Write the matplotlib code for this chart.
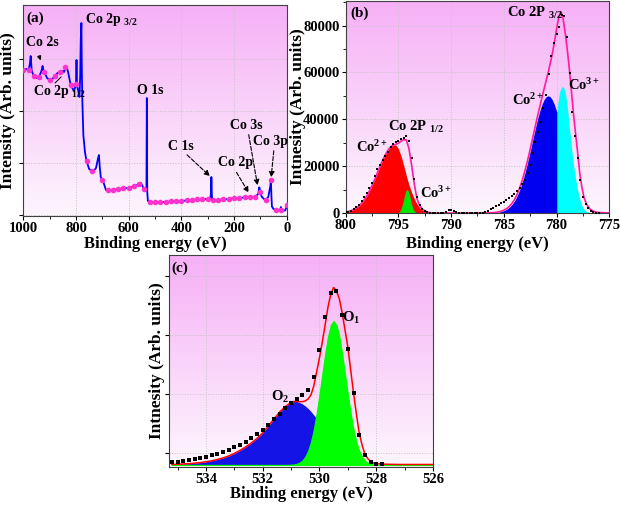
import numpy as np
import matplotlib
matplotlib.use('Agg')
import matplotlib.pyplot as plt
from matplotlib.colors import LinearSegmentedColormap
from matplotlib.ticker import MultipleLocator

plt.rcParams['font.family'] = 'Liberation Serif'
plt.rcParams['font.weight'] = 'bold'
plt.rcParams['axes.labelweight'] = 'bold'
plt.rcParams['mathtext.fontset'] = 'custom'
plt.rcParams['mathtext.rm'] = 'Liberation Serif:bold'
plt.rcParams['mathtext.it'] = 'Liberation Serif:italic:bold'
plt.rcParams['mathtext.bf'] = 'Liberation Serif:bold'

# (a) survey spectrum
survey_e = [1000, 990, 980, 975, 972, 968, 960, 950, 940, 930, 927, 924, 920, 910, 900, 890, 880,
            870, 860, 850, 845, 840, 837, 830, 820, 812, 808, 804, 800, 798, 796, 792, 787, 784,
            782, 779.5, 778, 776, 772, 766, 760, 750, 740, 730, 724, 716, 713, 710, 706, 700, 696,
            690, 686, 680, 660, 640, 620, 600, 580, 560, 553, 546, 540, 535, 532.5, 531, 529.5,
            527, 524, 520, 500, 480, 460, 440, 420, 400, 380, 360, 340, 320, 300, 290, 287, 286,
            284, 282, 280, 260, 240, 220, 200, 180, 160, 140, 120, 108, 104, 100, 95, 82, 80, 70,
            62, 60, 58, 56, 50, 40, 25, 22, 20, 15, 6, 2, 0]
survey_i = [146, 147, 146, 152, 160, 145, 140, 138, 139, 146, 150, 146, 144, 138, 136, 137, 140,
            143, 144, 145, 144, 149, 150, 144, 131, 127, 125, 128, 132, 156, 130, 126, 119, 140,
            175, 193, 150, 116, 81, 64, 55, 47, 45, 46, 48, 58, 61, 50, 39, 36, 34,
            29, 26, 26, 26, 27, 27.5, 28, 29.5, 32, 33, 29, 27, 25.5, 26, 118, 24.5,
            15, 14.5, 14, 13.7, 14, 14, 14.5, 14.8, 15, 15.5, 16, 16.5, 16.7, 17, 17, 25, 39,
            20, 15.5, 15.5, 16, 16.5, 17, 17.7, 18, 18.5, 18.8, 19.3, 22, 28.7, 24, 19.3, 16, 16, 19,
            30, 36, 20, 9.5, 7, 6, 6, 9, 6, 5.3, 5.5, 8, 11]

# (b) Co 2p
b_dots_e = np.linspace(800, 776, 97)
b_dots = [300, 450, 800, 1500, 2400, 3500, 5000, 6900, 8700, 10800, 13000, 16000, 18600, 20600,
          22500, 24500, 26200, 28200, 29500, 30300, 30900, 31500, 32200, 32800, 30800, 23600,
          14500, 7000, 3500, 1800, 1000, 500, 200, 100, 50, 0, 0, 100, 500, 1100, 1400, 900, 400,
          200, 100, 0, 0, 0, 0, 0, 0, 0, 100, 300, 700, 1500, 2300, 2900, 3500, 4200, 4800, 5500,
          6300, 7200, 8100, 9200, 10500, 12200, 14100, 17000, 20600, 25500, 30200, 34500, 39000,
          44800, 50500, 59500, 66900, 72500, 76500, 79500, 84500, 84000, 75000, 59800, 43000,
          33000, 23500, 14000, 7000, 4000, 2000, 900, 400, 150, 50]

b_env_e = [800.0, 799.75, 799.5, 799.25, 799.0, 798.75, 798.5, 798.25, 798.0, 797.75, 797.5,
           797.25, 797.0, 796.75, 796.5, 796.25, 796.0, 795.75, 795.5, 795.25, 795.0, 794.75,
           794.5, 794.25, 794.0, 793.75, 793.5, 793.25, 793.0, 792.75, 792.5, 792.25, 792.0,
           791.75, 791.0, 790.0, 789.0, 788.0, 787.0, 786.5, 786.0, 785.8, 785.6, 785.4, 785.2,
           785.0, 784.8, 784.6, 784.4, 784.2, 784.0, 783.8, 783.6, 783.4, 783.2, 783.0, 782.8,
           782.6, 782.4, 782.2, 782.0, 781.8, 781.6, 781.4, 781.2, 781.0, 780.8, 780.6, 780.4,
           780.2, 780.0, 779.8, 779.6, 779.4, 779.2, 779.0, 778.8, 778.6, 778.4, 778.2, 778.0,
           777.8, 777.6, 777.4, 777.2, 777.0, 776.8, 776.6, 776.4, 776.2, 776.0, 775.5, 775.0]
b_env = [420, 650, 990, 1480, 2130, 3000, 4150, 5600, 7300, 9400, 11800, 14300, 17100, 19800,
         22500, 24800, 26800, 28200, 29000, 29300, 29800, 30700, 31300, 31200, 27500, 20500,
         12500, 6300, 3300, 1800, 900, 400, 150, 50, 0, 0, 0, 0, 0, 50, 150, 250, 400, 600, 850,
         1200, 1700, 2300, 3200, 4300, 5700, 7400, 9500, 12000, 14800, 18000, 21500, 25300,
         29300, 33300, 37400, 41400, 45200, 49000, 52700, 56300, 60000, 63800, 68000, 73000,
         78500, 83300, 86000, 83500, 77500, 70500, 62000, 52500, 42500, 34000, 25800, 17000,
         11000, 6700, 4200, 2700, 1600, 1000, 560, 380, 250, 100, 50]

red_e = np.linspace(800, 791.75, 34)
red_co2 = [420, 650, 990, 1480, 2130, 3000, 4150, 5600, 7300, 9400, 11800, 14300, 17100, 19800,
           22500, 24800, 26800, 28200, 29000, 29050, 27400, 24300, 20300, 15900, 12000, 8800,
           6100, 3900, 2300, 1300, 650, 300, 120, 40]
green_e = np.linspace(795.1, 793.3, 19)
green_co3 = [120, 300, 660, 1340, 2450, 4000, 5900, 7860, 9400, 10130, 9800, 8550, 6700, 4740,
             3020, 1720, 890, 410, 170]
blue_e = [785.8, 785.6, 785.4, 785.2, 785.0, 784.8, 784.6, 784.4, 784.2, 784.0, 783.8, 783.6,
          783.4, 783.2, 783.0, 782.8, 782.6, 782.4, 782.2, 782.0, 781.8, 781.6, 781.4, 781.2,
          781.0, 780.8, 780.6, 780.4, 780.2, 780.0, 779.95]
blue_co2 = [190, 300, 450, 680, 1000, 1430, 2000, 2800, 3800, 5140, 6800, 8800, 11100, 13900,
            17100, 20600, 24400, 28300, 32400, 36300, 40100, 43400, 46200, 48300, 49600, 50050,
            49600, 48300, 46200, 43400, 43000]
cyan_e = [779.95, 779.9, 779.8, 779.7, 779.6, 779.5, 779.4, 779.3, 779.2, 779.1, 779.0, 778.9,
          778.8, 778.6, 778.4, 778.2, 778.0, 777.8, 777.6, 777.4, 777.2, 777.0, 776.8, 776.6]
cyan_co3 = [43000, 46000, 49300, 51700, 53100, 53800, 53900, 53300, 52000, 49400, 46000, 42000,
            37200, 28500, 21000, 14800, 9800, 5800, 3200, 1600, 800, 400, 150, 0]

# (c) O 1s
c_e = np.concatenate([np.linspace(535.2, 531.2, 21), np.linspace(531.0, 528.0, 31),
                      np.linspace(527.8, 526.0, 10)])
o2 = [0.5, 0.7, 1.0, 1.3, 1.8, 2.4, 3.2, 4.2, 5.5, 7.0, 9.0, 11.5, 14.5, 18, 22, 26.5, 32, 39,
      46, 53, 58.5,
      62.5, 63.5, 63.5, 62.5, 61, 59, 56.5, 53.5, 50, 46.5, 42.5, 38.5, 34.5, 30.5, 26.5, 23,
      19.5, 16.5, 13.5, 11, 9, 7, 5.5, 4.2, 3.2, 2.4, 1.8, 1.3, 0.9, 0.6, 0.4,
      0.2, 0.1, 0, 0, 0, 0, 0, 0, 0, 0]
o1 = [0] * 21 + [0.2, 0.5, 1.15, 2.4, 4.5, 8.3, 14.2, 23, 35.5, 51.5, 70.5, 91, 111, 128.5, 140,
                 144, 140, 128.5, 111, 91, 70.5, 51.5, 35.5, 23, 14.2, 8.3, 4.5, 2.4, 1.15, 0.5,
                 0.2] + [0.1, 0, 0, 0, 0, 0, 0, 0, 0, 0]
c_env = [0.5, 0.7, 1.0, 1.3, 1.8, 2.4, 3.2, 4.2, 5.5, 7.0, 9.0, 11.5, 14.5, 18, 22, 26.5, 32, 39,
         46, 53, 58.5,
         62.5, 63.5, 63.5, 63.3, 63.3, 64, 66, 70, 79, 93, 107, 123, 140, 158, 171, 177.5, 174,
         166, 152, 135, 118, 95, 72, 51, 32, 20, 11, 6.5, 3.5, 2, 1.3,
         0.9, 0.7, 0.6, 0.5, 0.5, 0.5, 0.5, 0.5, 0.5, 0.5]
c_dots_e = np.linspace(535.2, 527.8, 38)
c_dots = [2.7, 3.3, 4.0, 4.7, 5.7, 6.8, 8.2, 9.6, 11.3, 13.2, 15.3, 17.5, 20, 23, 26.5, 30.5, 35,
          40, 45.5, 51, 56.5, 61.5, 66, 70, 75, 88, 115, 148, 172, 174, 150, 116, 72, 30, 10, 3,
          1.3, 0.8]

bg_cmap = LinearSegmentedColormap.from_list('bg', ['#fdf6fd', '#f6b0f6'])


def style_axes(ax):
    grad = np.linspace(1, 0, 256).reshape(-1, 1)
    ax.imshow(grad, extent=[0, 1, 0, 1], transform=ax.transAxes, aspect='auto',
              cmap=bg_cmap, zorder=-1)
    ax.grid(True, color='#c4c4c4', linestyle=':', linewidth=0.7)
    ax.set_axisbelow(True)
    for s in ax.spines.values():
        s.set_color('#404040')
        s.set_linewidth(0.8)
    ax.tick_params(direction='out', length=3, width=0.8, labelsize=10.5, pad=1.5)
    ax.tick_params(which='minor', direction='out', length=2, width=0.6)


fig = plt.figure(figsize=(6.2, 5.05), dpi=100)

# ---- (a)
ax_a = fig.add_axes([0.0376, 0.5723, 0.4248, 0.4178])
style_axes(ax_a)
ax_a.plot(survey_e, survey_i, color='#0000ff', lw=1.3, zorder=3)
mark = [i for i, e in enumerate(survey_e) if e % 20 == 0]
ax_a.plot(np.array(survey_e)[mark], np.array(survey_i)[mark], 'o', color='#ff33cc',
          ms=3, zorder=4)
ax_a.set_xlim(1000, 0)
ax_a.set_ylim(0, 211)
ax_a.xaxis.set_major_locator(MultipleLocator(200))
ax_a.xaxis.set_minor_locator(MultipleLocator(100))
ax_a.set_yticks([1, 53, 105, 157])
ax_a.set_yticklabels([])
ax_a.set_xlabel('Binding energy (eV)', fontsize=12)
ax_a.set_ylabel('Intensity (Arb. units)', fontsize=12.5)
ax_a.xaxis.set_label_coords(0.5, -0.095)
ax_a.yaxis.set_label_coords(-0.026, 0.5)

ax_a.text(990, 198, '(a)', fontsize=11, va='center')
ax_a.text(990, 173, 'Co 2s', fontsize=10, va='center')
ax_a.text(963, 124, r'Co 2p $_{1/2}$', fontsize=10, va='center')
ax_a.text(765, 196, r'Co 2p $_{3/2}$', fontsize=10, va='center')
ax_a.text(568, 125, 'O 1s', fontsize=10, va='center')
ax_a.text(450, 69, 'C 1s', fontsize=10, va='center')
ax_a.text(261, 53, 'Co 2p', fontsize=10, va='center')
ax_a.text(216, 90, 'Co 3s', fontsize=10, va='center')
ax_a.text(128, 74, 'Co 3p', fontsize=10, va='center')
solid = dict(arrowstyle='-|>', color='k', lw=0.7, mutation_scale=6)
ax_a.annotate('', xy=(931, 153), xytext=(944, 163), arrowprops=solid)
ax_a.annotate('', xy=(849, 141), xytext=(887, 131),
              arrowprops=dict(arrowstyle='-', color='k', lw=0.7))
dashed = dict(arrowstyle='-|>', color='k', lw=0.8, ls='--', mutation_scale=8)
ax_a.annotate('', xy=(284, 38), xytext=(386, 63), arrowprops=dashed)
ax_a.annotate('', xy=(139, 21), xytext=(196, 46), arrowprops=dashed)
ax_a.annotate('', xy=(109, 28), xytext=(146, 84), arrowprops=dashed)
ax_a.annotate('', xy=(60, 36), xytext=(48, 68), arrowprops=dashed)

# ---- (b)
ax_b = fig.add_axes([0.5576, 0.5782, 0.4251, 0.4198])
style_axes(ax_b)
ax_b.fill_between(red_e, red_co2, color='#ff0000', lw=0, zorder=2)
ax_b.fill_between(green_e, green_co3, color='#00e600', lw=0, zorder=2.1)
ax_b.fill_between(blue_e, blue_co2, color='#0000f0', lw=0, zorder=2)
ax_b.fill_between(cyan_e, cyan_co3, color='#00ffff', lw=0, zorder=2.1)
ax_b.plot(b_env_e, b_env, color='#ff1aa0', lw=1.2, zorder=3)
ax_b.plot(b_dots_e, b_dots, 's', color='k', ms=2.0, mew=0, zorder=4)
ax_b.set_xlim(800, 775)
ax_b.set_ylim(0, 90500)
ax_b.xaxis.set_major_locator(MultipleLocator(5))
ax_b.xaxis.set_minor_locator(MultipleLocator(2.5))
ax_b.yaxis.set_major_locator(MultipleLocator(20000))
ax_b.yaxis.set_minor_locator(MultipleLocator(10000))
ax_b.set_xlabel('Binding energy (eV)', fontsize=12)
ax_b.set_ylabel('Intnesity (Arb. units)', fontsize=12.5)
ax_b.xaxis.set_label_coords(0.5, -0.11)
ax_b.yaxis.set_label_coords(-0.15, 0.5)

ax_b.text(799.6, 85100, '(b)', fontsize=11, va='center')
ax_b.text(784.7, 85600, r'Co 2P $_{3/2}$', fontsize=10.5, va='center')
ax_b.text(784.25, 48300, r'Co$^{2+}$', fontsize=10.5, va='center')
ax_b.text(778.9, 54800, r'Co$^{3+}$', fontsize=10.5, va='center')
ax_b.text(796.0, 36800, r'Co 2P $_{1/2}$', fontsize=10.5, va='center')
ax_b.text(799.0, 28200, r'Co$^{2+}$', fontsize=10.5, va='center')
ax_b.text(793.0, 8560, r'Co$^{3+}$', fontsize=10.5, va='center')

# ---- (c)
ax_c = fig.add_axes([0.2726, 0.0753, 0.4258, 0.4198])
style_axes(ax_c)
ax_c.fill_between(c_e, o2, color='#1414e6', lw=0, zorder=2)
ax_c.fill_between(c_e, o1, color='#00ff00', lw=0.8, edgecolor='#00ff00', zorder=2.1)
ax_c.plot(c_e, c_env, color='#ff0000', lw=1.1, zorder=3)
ax_c.plot(c_dots_e, c_dots, 's', color='k', ms=2.2, mew=0, zorder=4)
ax_c.set_xlim(535.3, 526)
ax_c.set_ylim(-2, 210)
ax_c.xaxis.set_major_locator(MultipleLocator(2))
ax_c.xaxis.set_minor_locator(MultipleLocator(1))
ax_c.set_yticks([12, 71, 130, 189])
ax_c.set_yticklabels([])
ax_c.set_xlabel('Binding energy (eV)', fontsize=12)
ax_c.set_ylabel('Intnesity (Arb. units)', fontsize=12.5)
ax_c.xaxis.set_label_coords(0.5, -0.092)
ax_c.yaxis.set_label_coords(-0.016, 0.5)

ax_c.text(535.2, 197, '(c)', fontsize=11, va='center')
ax_c.text(529.2, 147, r'O$_1$', fontsize=10.5, va='center')
ax_c.text(531.7, 68, r'O$_2$', fontsize=10.5, va='center')

fig.savefig('out.png', dpi=100)
